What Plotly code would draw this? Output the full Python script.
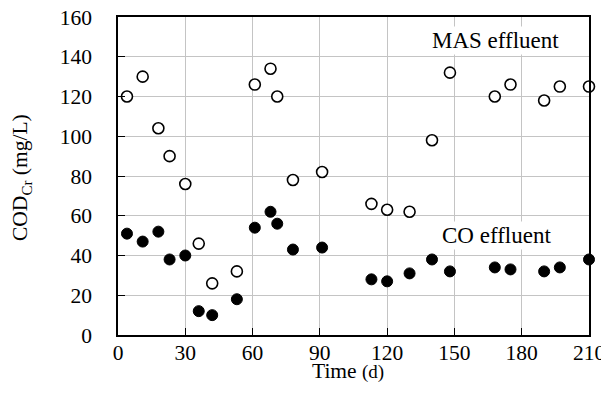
import plotly.graph_objects as go

time_mas = [4, 11, 18, 23, 30, 36, 42, 53, 61, 68, 71, 78, 91, 113, 120, 130, 140, 148, 168, 175, 190, 197, 210]
cod_mas = [120, 130, 104, 90, 76, 46, 26, 32, 126, 134, 120, 78, 82, 66, 63, 62, 98, 132, 120, 126, 118, 125, 125]
time_co = [4, 11, 18, 23, 30, 36, 42, 53, 61, 68, 71, 78, 91, 113, 120, 130, 140, 148, 168, 175, 190, 197, 210]
cod_co = [51, 47, 52, 38, 40, 12, 10, 18, 54, 62, 56, 43, 44, 28, 27, 31, 38, 32, 34, 33, 32, 34, 38]

x_ticks = [0, 30, 60, 90, 120, 150, 180, 210]
y_ticks = [0, 20, 40, 60, 80, 100, 120, 140, 160]

font_family = "Liberation Serif"
fs = 21.5

fig = go.Figure()
fig.add_trace(go.Scatter(
    x=time_mas, y=cod_mas, mode="markers", name="MAS effluent",
    marker=dict(size=11, color="white", line=dict(color="black", width=1.6)),
    cliponaxis=False,
))
fig.add_trace(go.Scatter(
    x=time_co, y=cod_co, mode="markers", name="CO effluent",
    marker=dict(size=11, color="black", line=dict(color="black", width=1)),
    cliponaxis=False,
))

fig.add_annotation(x=168.3, y=148, text="MAS effluent", showarrow=False,
                   font=dict(family=font_family, size=23, color="black"),
                   bgcolor="white")
fig.add_annotation(x=168.8, y=50, text="CO effluent", showarrow=False,
                   font=dict(family=font_family, size=23, color="black"),
                   bgcolor="white")

# axis titles
fig.add_annotation(xref="paper", yref="paper", x=0.5, y=0, xshift=-6, yshift=-36,
                   text="Time <span style='font-size:19px'>(d)</span>", showarrow=False,
                   xanchor="center", yanchor="middle",
                   font=dict(family=font_family, size=fs, color="black"))
fig.add_annotation(xref="paper", yref="paper", x=0, y=0.5, xshift=-97, yshift=-2,
                   text="COD<sub>Cr</sub> (mg/L)", showarrow=False, textangle=-90,
                   xanchor="center", yanchor="middle",
                   font=dict(family=font_family, size=fs, color="black"))

axis_common = dict(
    showline=True, linecolor="black", linewidth=1.5, mirror=True,
    ticks="inside", ticklen=7, tickcolor="black", tickwidth=1,
    showgrid=True, gridcolor="#c4c4c4", gridwidth=1,
    zeroline=False, ticklabeloverflow="allow",
    tickfont=dict(family=font_family, size=fs, color="black"),
)

fig.update_xaxes(
    range=[0, 210], tickvals=x_ticks, ticktext=[str(v) for v in x_ticks],
    ticklabelstandoff=-3,
    **axis_common,
)
fig.update_yaxes(
    range=[0, 160], tickvals=y_ticks, ticktext=[str(v) for v in y_ticks],
    ticklabelstandoff=20,
    **axis_common,
)

# page body has an 8px margin: figure is 601x404 so the plot lands where the reference has it
fig.update_layout(
    width=601, height=404,
    margin=dict(l=110, r=20, t=9, b=77, autoexpand=False),
    paper_bgcolor="white", plot_bgcolor="white",
    showlegend=False,
)

fig.write_html("out.html")
